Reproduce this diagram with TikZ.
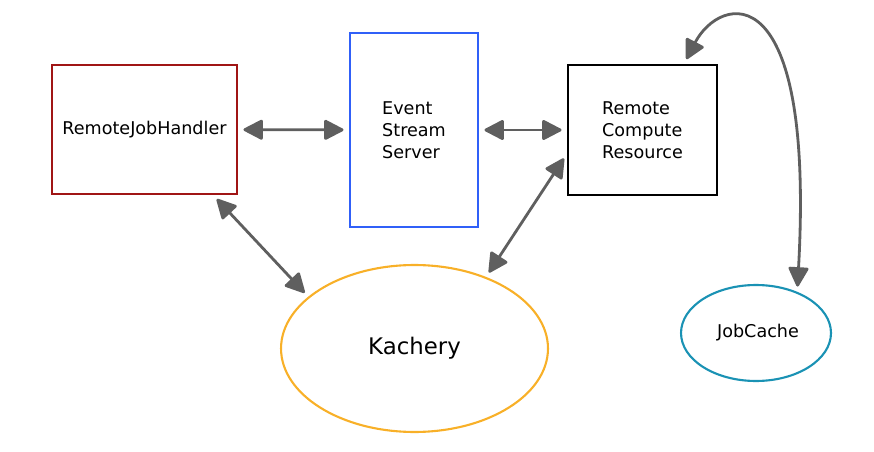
\documentclass[tikz,border=0pt]{standalone}
\usepackage{fontspec}
\setmainfont{DejaVu Sans}
\usetikzlibrary{arrows.meta, shapes.geometric}

\definecolor{rjhred}{HTML}{A01515}
\definecolor{essblue}{HTML}{3060F8}
\definecolor{kachorange}{HTML}{F8B028}
\definecolor{jcteal}{HTML}{1A92B4}
\definecolor{arrowgray}{HTML}{5F5F5F}

\begin{document}
\begin{tikzpicture}[x=0.02cm, y=-0.02cm,
        box/.style={draw, line width=1.4pt, font=\fontsize{10}{12.5}\selectfont, align=left, inner sep=0pt},
        link/.style={arrowgray, line width=1.6pt, {Triangle[round,length=12pt,width=12pt]}-{Triangle[round,length=12pt,width=12pt]}, shorten >=3pt, shorten <=3pt}]
                \useasboundingbox (0, 0) rectangle (874, 452);
                \node[box, rjhred, text=black, minimum width=3.7cm, minimum height=2.58cm] (RJH) at (144.5, 129.5) {RemoteJobHandler};
                \node[box, essblue, text=black, minimum width=2.56cm, minimum height=3.88cm] (ESS) at (414, 130) {Event\\Stream\\Server};
                \node[box, black, minimum width=2.98cm, minimum height=2.6cm] (RCR) at (642.5, 130) {Remote\\Compute\\Resource};
                \node[box, ellipse, kachorange, text=black, line width=1.2pt, font=\fontsize{13}{15}\selectfont, minimum width=5.34cm, minimum height=3.34cm] (KA) at (414.5, 348.5) {Kachery};
                \node[box, ellipse, jcteal, text=black, line width=1.2pt, minimum width=3.0cm, minimum height=1.92cm] (JC) at (756, 333) {\hspace{0.08cm}JobCache};

                \draw[link] (RJH) -- (ESS);
                \draw[link] (ESS) -- (RCR);
                \draw[link] ([xshift=-0.5cm]RJH.south east) -- (KA.154);
                \draw[link] ([yshift=-0.48cm]RCR.west) -- (KA.45);
                \draw[link] ([xshift=0.83cm]RCR.north) .. controls (720, -5) and (815, -30) .. (JC.45);
            \end{tikzpicture}
\end{document}
